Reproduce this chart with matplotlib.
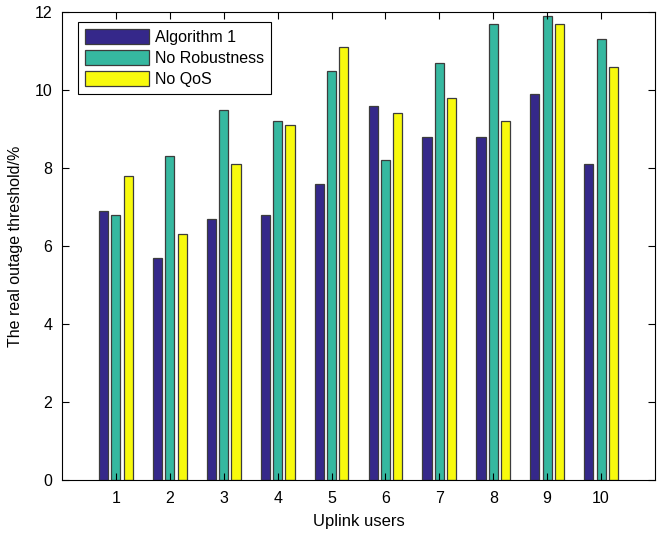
import numpy as np
import matplotlib.pyplot as plt

# Data
users = [1, 2, 3, 4, 5, 6, 7, 8, 9, 10]
algorithm1 = [6.9, 5.7, 6.7, 6.8, 7.6, 9.6, 8.8, 8.8, 9.9, 8.1]
no_robustness = [6.8, 8.3, 9.5, 9.2, 10.5, 8.2, 10.7, 11.7, 11.9, 11.3]
no_qos = [7.8, 6.3, 8.1, 9.1, 11.1, 9.4, 9.8, 9.2, 11.7, 10.6]
labels = ["Algorithm 1", "No Robustness", "No QoS"]
colors = ["#35288a", "#36b8a0", "#f8fa0d"]

plt.rcParams["font.family"] = ["Liberation Sans", "DejaVu Sans"]

fig = plt.figure(figsize=(6.67, 5.35), dpi=100)
ax = fig.add_axes([62 / 667, 55 / 535, 593 / 667, 468 / 535])

x = np.array(users)
width = 0.17
offset = 0.228
for i, (vals, lab, col) in enumerate(zip([algorithm1, no_robustness, no_qos], labels, colors)):
    ax.bar(x + (i - 1) * offset, vals, width, color=col, edgecolor="#3c3c3c",
           linewidth=0.9, label=lab)

ax.set_xlim(0, 11)
ax.set_ylim(0, 12)
ax.set_xticks(users)
ax.set_yticks(range(0, 13, 2))
ax.tick_params(direction="in", top=True, right=True, labelsize=11.5, length=5)
ax.tick_params(axis="x", pad=8)
ax.tick_params(axis="y", pad=7)
for s in ax.spines.values():
    s.set_linewidth(0.8)

ax.set_xlabel("Uplink users", fontsize=12, labelpad=6)
ax.set_ylabel("The real outage threshold/%", fontsize=11.5, labelpad=8)

leg = ax.legend(loc="upper left", bbox_to_anchor=(0.027, 0.978), fontsize=11.5,
                fancybox=False, edgecolor="black", framealpha=1,
                handlelength=4.0, handleheight=1.05, borderaxespad=0,
                labelspacing=0.32, handletextpad=0.35, borderpad=0.45)
leg.get_frame().set_linewidth(0.8)

fig.savefig("out.png", dpi=100)
